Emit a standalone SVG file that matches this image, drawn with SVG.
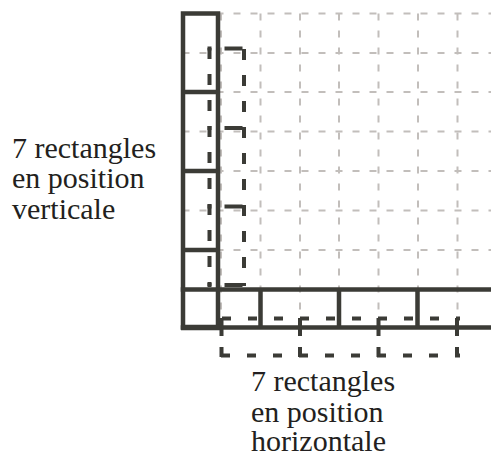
<svg xmlns="http://www.w3.org/2000/svg" width="491" height="456" viewBox="0 0 491 456">
<style>
.grid{fill:none;stroke:#c2bebb;stroke-width:2;stroke-dasharray:7 10}
.thick{fill:none;stroke:#3b3b36;stroke-width:4.5;stroke-linecap:square}
.dash{fill:none;stroke:#3b3b36;stroke-width:4;stroke-linecap:butt}
text{font-family:"Liberation Serif",Tinos,"Noto Serif","DejaVu Serif",Times,"Times New Roman",FreeSerif,serif;font-size:30px;fill:#231f20}
</style>
<rect width="491" height="456" fill="#ffffff"/>
<g id="grid">
<path class="grid" d="M182.5 13.5V328M221 13.5V328M260.5 13.5V328M300 13.5V328M339 13.5V328M378.5 13.5V328M418 13.5V328M457.5 13.5V328"/>
<path class="grid" d="M182.5 13.5H491M182.5 53H491M182.5 92H491M182.5 131.5H491M182.5 171H491M182.5 210.5H491M182.5 250H491M182.5 289.5H491M182.5 328H491"/>
</g>
<g id="vertical-rectangles">
<path class="thick" d="M183 13.5V327.5M218 13.5V327.5M183 13.5H218M183 92H218M183 171H218M183 250H218"/>
</g>
<g id="horizontal-rectangles">
<path class="thick" d="M183 289.5H491M183 327.5H491M260.5 289.5V327.5M339 289.5V327.5M417.5 289.5V327.5"/>
<path fill="none" stroke="#3b3b36" stroke-width="5.5" d="M181 327.5H220"/>
</g>
<g id="vertical-dashed">
<path class="dash" stroke-dasharray="11 15" d="M209.5 48V286M244 49V286"/>
<path class="dash" stroke-dasharray="4 13 18 40" d="M207.5 48.5H246M207.5 128H246M207.5 206.5H246M207.5 285H246"/>
</g>
<g id="horizontal-dashed">
<path class="dash" stroke-dasharray="9 17" d="M222 318.5H460"/>
<path class="dash" stroke-dasharray="9 17" d="M221 355.5H460"/>
<path class="dash" stroke-dasharray="18 11 10 40" d="M221.5 318V358M300 318V358M378.5 318V358M457 318V358"/>
</g>
<g id="labels">
<text x="12" y="157.5" font-family="Liberation Serif, serif">7 rectangles</text>
<text x="12" y="188" font-family="Liberation Serif, serif">en position</text>
<text x="12" y="218.5" font-family="Liberation Serif, serif">verticale</text>
<text x="251" y="391" font-family="Liberation Serif, serif">7 rectangles</text>
<text x="251" y="421.5" font-family="Liberation Serif, serif">en position</text>
<text x="251" y="451" font-family="Liberation Serif, serif">horizontale</text>
</g>
</svg>
